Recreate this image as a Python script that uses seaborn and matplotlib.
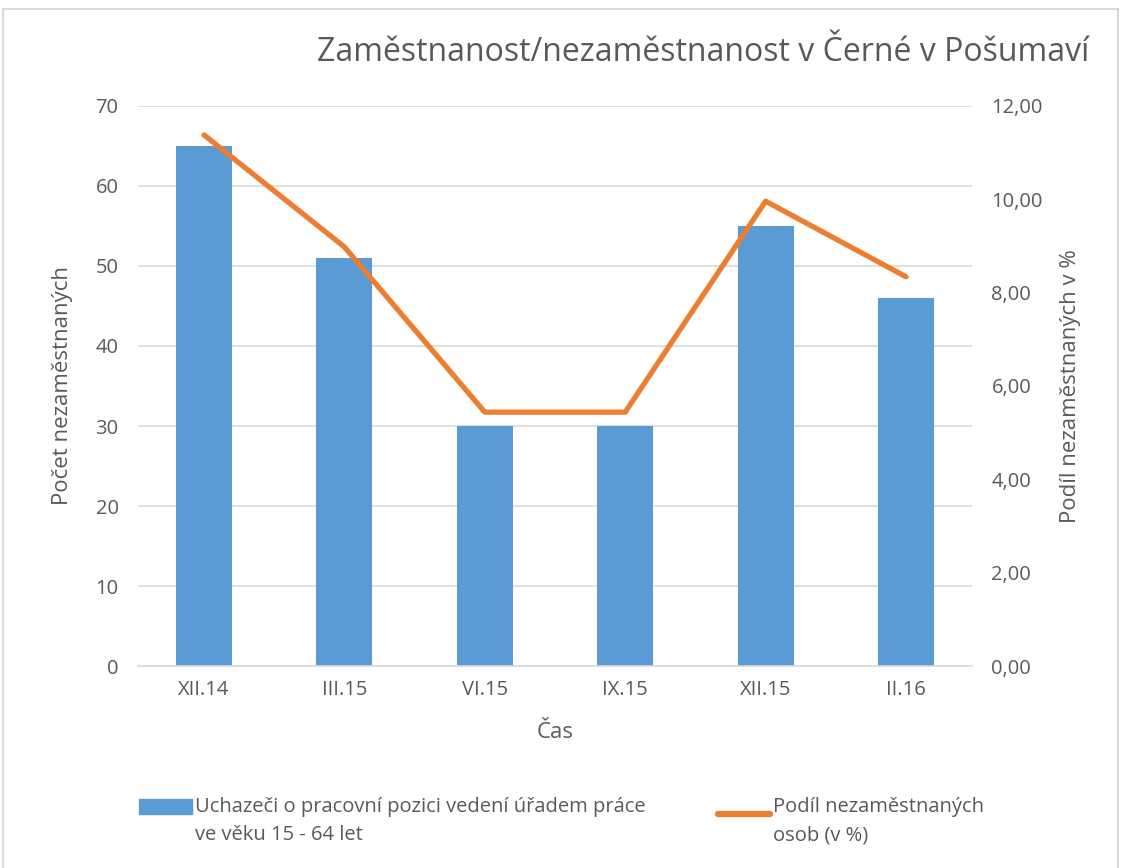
import matplotlib
matplotlib.use("Agg")
import matplotlib.pyplot as plt
import matplotlib.patches as mpatches
import matplotlib.lines as mlines
from matplotlib.legend_handler import HandlerPatch, HandlerLine2D
from matplotlib.ticker import FuncFormatter
import pandas as pd
import seaborn as sns

obdobi = ["XII.14", "III.15", "VI.15", "IX.15", "XII.15", "II.16"]
uchazeci = [65, 51, 30, 30, 55, 46]
podil = [11.38, 8.98, 5.44, 5.44, 9.96, 8.34]

bar_label = "Uchazeči o pracovní pozici vedení úřadem práce\nve věku 15 - 64 let"
line_label = "Podíl nezaměstnaných\nosob (v %)"

df = pd.DataFrame({"obdobi": obdobi, "uchazeci": uchazeci, "podil": podil})

sns.set_style("white")
plt.rcParams["font.family"] = ["Open Sans", "DejaVu Sans"]
txt = "#595959"
blue = "#5B9BD5"
orange = "#ED7D31"

fig = plt.figure(figsize=(11.21, 8.68), dpi=100)
ax = fig.add_axes([0.1231, 0.2327, 0.744, 0.6452])

sns.barplot(x="obdobi", y="uchazeci", data=df, color=blue, width=0.4,
            saturation=1, ax=ax, zorder=2, linewidth=0)
ax.set_ylim(0, 70)
ax.set_yticks(range(0, 71, 10))
ax.grid(axis="y", color="#D9D9D9", linewidth=1.2, zorder=0)
ax.set_axisbelow(True)
for s in ["top", "left", "right"]:
    ax.spines[s].set_visible(False)
ax.spines["bottom"].set_color("#D9D9D9")
ax.spines["bottom"].set_linewidth(1.2)
ax.tick_params(axis="both", length=0, labelsize=14.5, labelcolor=txt, pad=10)
ax.tick_params(axis="y", pad=14)
ax.set_xlabel("Čas", fontsize=16, color=txt, labelpad=16)
ax.set_ylabel("Počet nezaměstnaných", fontsize=16, color=txt, labelpad=16)

ax2 = ax.twinx()
sns.lineplot(x="obdobi", y="podil", data=df, color=orange, linewidth=3.8,
             ax=ax2, solid_capstyle="round", solid_joinstyle="round", sort=False)
ax2.set_ylim(0, 12)
ax2.set_yticks(range(0, 13, 2))
ax2.yaxis.set_major_formatter(FuncFormatter(lambda v, p: f"{v:.2f}".replace(".", ",")))
for s in ax2.spines.values():
    s.set_visible(False)
ax2.tick_params(axis="y", length=0, labelsize=14.5, labelcolor=txt, pad=14)
ax2.set_ylabel("Podíl nezaměstnaných v %", fontsize=16, color=txt, labelpad=12)
ax2.grid(False)

fig.text(0.972, 0.94, "Zaměstnanost/nezaměstnanost v Černé v Pošumaví",
         ha="right", va="center", fontsize=23, color=txt)


# legend handles sit next to the first text line, as in the original
class TopPatch(HandlerPatch):
    def create_artists(self, legend, orig_handle, xdescent, ydescent, width, height, fontsize, trans):
        return super().create_artists(legend, orig_handle, xdescent, ydescent - 0.75 * fontsize,
                                      width, height, fontsize, trans)


class TopLine(HandlerLine2D):
    def create_artists(self, legend, orig_handle, xdescent, ydescent, width, height, fontsize, trans):
        return super().create_artists(legend, orig_handle, xdescent, ydescent - 0.75 * fontsize,
                                      width, height, fontsize, trans)


bar_h = mpatches.Patch(color=blue, label=bar_label)
line_h = mlines.Line2D([], [], color=orange, linewidth=4.5, solid_capstyle="round", label=line_label)
leg = fig.legend(handles=[bar_h, line_h], loc="center left", bbox_to_anchor=(0.108, 0.054),
                 ncol=2, frameon=False, fontsize=14.5, labelcolor=txt,
                 handlelength=2.6, handletextpad=0.15, columnspacing=3.6,
                 handler_map={bar_h: TopPatch(), line_h: TopLine()})
for t in leg.get_texts():
    t.set_linespacing(1.55)

fig.add_artist(mpatches.Rectangle((0.003, -0.01), 0.994, 1.0, transform=fig.transFigure,
                                  fill=False, edgecolor="#D9D9D9", linewidth=1.5))

fig.savefig("out.png", dpi=100)
